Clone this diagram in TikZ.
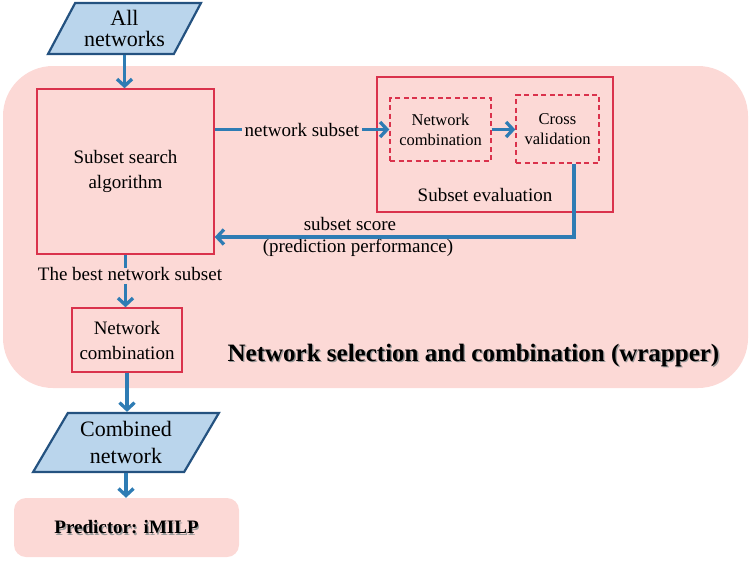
\documentclass[tikz,border=0pt]{standalone}
\usepackage{fontspec}
\setmainfont{Liberation Serif}
\usetikzlibrary{arrows.meta,shapes.geometric}
\definecolor{pinkbg}{RGB}{252,217,214}
\definecolor{redline}{RGB}{218,50,76}
\definecolor{bluearrow}{RGB}{46,124,180}
\definecolor{parafill}{RGB}{186,213,236}
\definecolor{paraline}{RGB}{36,82,128}
\tikzset{
  redbox/.style={draw=redline,line width=1.4pt,rectangle,align=center,inner sep=0pt,font=\fontsize{19}{25}\selectfont},
  dashbox/.style={draw=redline,line width=1.4pt,dashed,dash pattern=on 5pt off 3.5pt,rectangle,align=center,inner sep=0pt,font=\fontsize{16.5}{20}\selectfont},
  para/.style={trapezium,trapezium stretches=true,draw=paraline,fill=parafill,line width=2.2pt,align=center,inner sep=0pt},
  arr/.style={draw=bluearrow,line width=3.3pt,-{Straight Barb[length=7pt,width=15pt]}},
  plainline/.style={draw=bluearrow,line width=3.3pt},
  lbl/.style={inner sep=0pt,align=center,font=\fontsize{19}{24}\selectfont},
}
\begin{document}
\begin{tikzpicture}[x=1pt,y=-1pt]
\useasboundingbox (0,0) rectangle (750,560);
% wrapper background
\node[fill=pinkbg,rounded corners=50pt,minimum width=745pt,minimum height=322pt,inner sep=0pt] (wrap) at (375.5,227) {};
% predictor background
\node[fill=pinkbg,rounded corners=12pt,minimum width=225pt,minimum height=59pt,inner sep=0pt] (pred) at (126.5,527.5) {};
\node[text=black!40,font=\bfseries\fontsize{19}{22}\selectfont] (predsh) at (127.7,528.7) {Predictor: iMILP};
\node[font=\bfseries\fontsize{19}{22}\selectfont] (predtxt) at (126.5,527.5) {Predictor: iMILP};
% parallelograms
\node[para,trapezium left angle=58.7,trapezium right angle=121.3,minimum width=153pt,minimum height=51pt,font=\fontsize{22}{21}\selectfont] (all) at (124.5,28.5) {All\\networks};
\node[para,trapezium left angle=57.2,trapezium right angle=122.8,minimum width=186pt,minimum height=59pt,font=\fontsize{22}{27}\selectfont] (comb) at (126,442.5) {Combined\\network};
% boxes
\node[redbox,minimum width=177pt,minimum height=165pt] (ssa) at (125.5,171.5) {Subset search\\algorithm};
\node[redbox,minimum width=236pt,minimum height=135pt] (se) at (495,144.5) {};
\node[lbl] (setxt) at (485,195) {Subset evaluation};
\node[dashbox,minimum width=101pt,minimum height=63pt] (ncd) at (440.5,129.5) {Network\\combination};
\node[dashbox,minimum width=83pt,minimum height=68pt] (cv) at (557.5,129) {Cross\\validation};
\node[redbox,minimum width=110pt,minimum height=64pt] (nc2) at (127,340) {Network\\combination};
% title
\node[text=black!40,font=\bfseries\fontsize{25}{28}\selectfont] (titlesh) at (474.8,356.8) {Network selection and combination (wrapper)};
\node[font=\bfseries\fontsize{25}{28}\selectfont] (title) at (473.5,355.5) {Network selection and combination (wrapper)};
% labels
\node[lbl] (best) at (130,274) {The best network subset};
\node[lbl] (score) at (350,224) {subset score};
\node[lbl] (perf) at (358,248) {(prediction performance)};
% connectors
\draw[arr] (all.south) -- (all.south |- ssa.north);
\draw[arr] (ssa.east |- ncd.west) -- node[fill=pinkbg,lbl,inner xsep=3pt] (ns) {network subset} (ncd.west);
\draw[arr] (ncd.east) -- (ncd.east -| cv.west);
\coordinate (fb) at (574,237);
\draw[arr] (cv.south -| fb) |- (fb -| ssa.east);
\draw[plainline] (ssa.south) -- ([yshift=-1pt]ssa.south |- best.north);
\draw[arr] ([yshift=-3pt]ssa.south |- best.south) -- (ssa.south |- nc2.north);
\draw[arr] (nc2.south) -- (nc2.south |- comb.north);
\draw[arr] (comb.south) -- (comb.south |- pred.north);
\end{tikzpicture}
\end{document}
